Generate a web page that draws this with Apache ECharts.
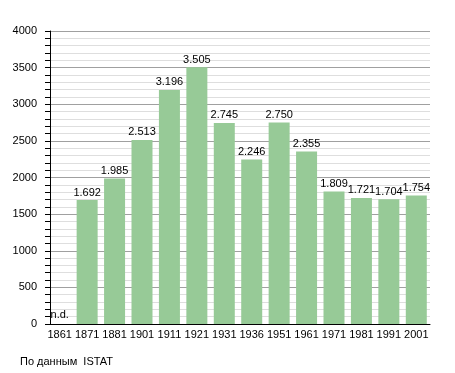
<!DOCTYPE html>
<html>
<head>
<meta charset="utf-8">
<script src="https://cdn.jsdelivr.net/npm/echarts@6/dist/echarts.min.js"></script>
<style>html,body{margin:0;padding:0;background:#fff}#c{width:455px;height:373px}</style>
</head>
<body>
<div id="c"></div>
<script>
var years = ['1861','1871','1881','1901','1911','1921','1931','1936','1951','1961','1971','1981','1991','2001'];
var population = [null,1692,1985,2513,3196,3505,2745,2246,2750,2355,1809,1721,1704,1754];
var noDataText = 'n.d.';
var sourceText = 'По данным  ISTAT';

var FONT = '"Liberation Sans", Arial, sans-serif';
function fmt(v){ return String(v).replace(/\B(?=(\d{3})+(?!\d))/g, '.'); }

var seriesData = population.map(function(v){
  if (v === null) return {value:0, label:{formatter:noDataText, distance:4}};
  return v;
});

var chart = echarts.init(document.getElementById('c'), null, {renderer:'canvas'});
chart.setOption({
  animation:false,
  backgroundColor:'#fff',
  textStyle:{fontFamily:FONT},
  graphic:[{type:'text', left:20, top:356, style:{text:sourceText, font:'11px '+FONT, fill:'#000'}}],
  grid:{left:46, right:25, top:31, bottom:49, containLabel:false},
  xAxis:{
    type:'category', data:years,
    axisLine:{lineStyle:{color:'#000', width:1}},
    axisTick:{show:false},
    axisLabel:{color:'#000', fontSize:11, fontFamily:FONT, margin:5, interval:0}
  },
  yAxis:{
    type:'value', min:0, max:4000, interval:500, offset:-4,
    axisLine:{show:true, lineStyle:{color:'#000', width:1}},
    axisTick:{show:true, length:5, lineStyle:{color:'#000'}},
    minorTick:{show:true, splitNumber:5, length:5, lineStyle:{color:'#000'}},
    axisLabel:{color:'#000', fontSize:11, fontFamily:FONT, margin:13,
      formatter:function(v){ return String(v); }},
    splitLine:{show:true, lineStyle:{color:'#a0a0a0', width:1}},
    minorSplitLine:{show:true, lineStyle:{color:'#dedede', width:1}}
  },
  series:[{
    type:'bar', data:seriesData, barWidth:21,
    itemStyle:{color:'#97ca97'},
    label:{show:true, position:'top', distance:2, color:'#000', fontSize:11, fontFamily:FONT,
      formatter:function(p){ return fmt(p.value); }}
  }]
});
</script>
</body>
</html>
